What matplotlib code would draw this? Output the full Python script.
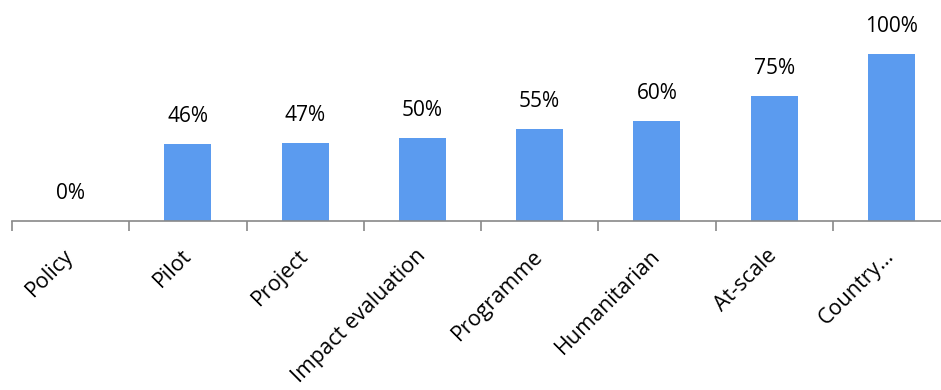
import numpy as np
import matplotlib.pyplot as plt

categories = ["Policy", "Pilot", "Project", "Impact evaluation", "Programme",
              "Humanitarian", "At-scale", "Country\u2026"]
values = [0, 46, 47, 50, 55, 60, 75, 100]

plt.rcParams['font.family'] = ['Open Sans', 'DejaVu Sans']

fig = plt.figure(figsize=(9.41, 3.90), dpi=100)
# axes spans past the right edge like the original
ax = fig.add_axes([12/941, 169/390, 938/941, (221-20.6)/390])

x = np.arange(len(categories))
ax.bar(x, values, width=0.4, color="#5B9BEF")
for xi, v in zip(x, values):
    ax.text(xi, v + 10, f"{v}%", ha="center", va="bottom", fontsize=15, color="black")

ax.set_xlim(-0.5, len(categories) - 0.5)
ax.set_ylim(0, 120)
ax.set_yticks([])
for s in ["top", "right", "left"]:
    ax.spines[s].set_visible(False)
ax.spines["bottom"].set_color("#898989")
ax.spines["bottom"].set_linewidth(1.2)

ax.set_xticks(np.arange(len(categories) + 1) - 0.5)
ax.set_xticklabels([])
ax.tick_params(axis="x", which="major", length=7, width=1.2, color="#898989", direction="out")
ax.set_xticks(x, minor=True)
ax.set_xticklabels(categories, minor=True, rotation=45, ha="right", va="center",
                   rotation_mode="anchor", fontsize=15.5)
ax.tick_params(axis="x", which="minor", length=0, pad=23)

fig.savefig("out.png", dpi=100)
